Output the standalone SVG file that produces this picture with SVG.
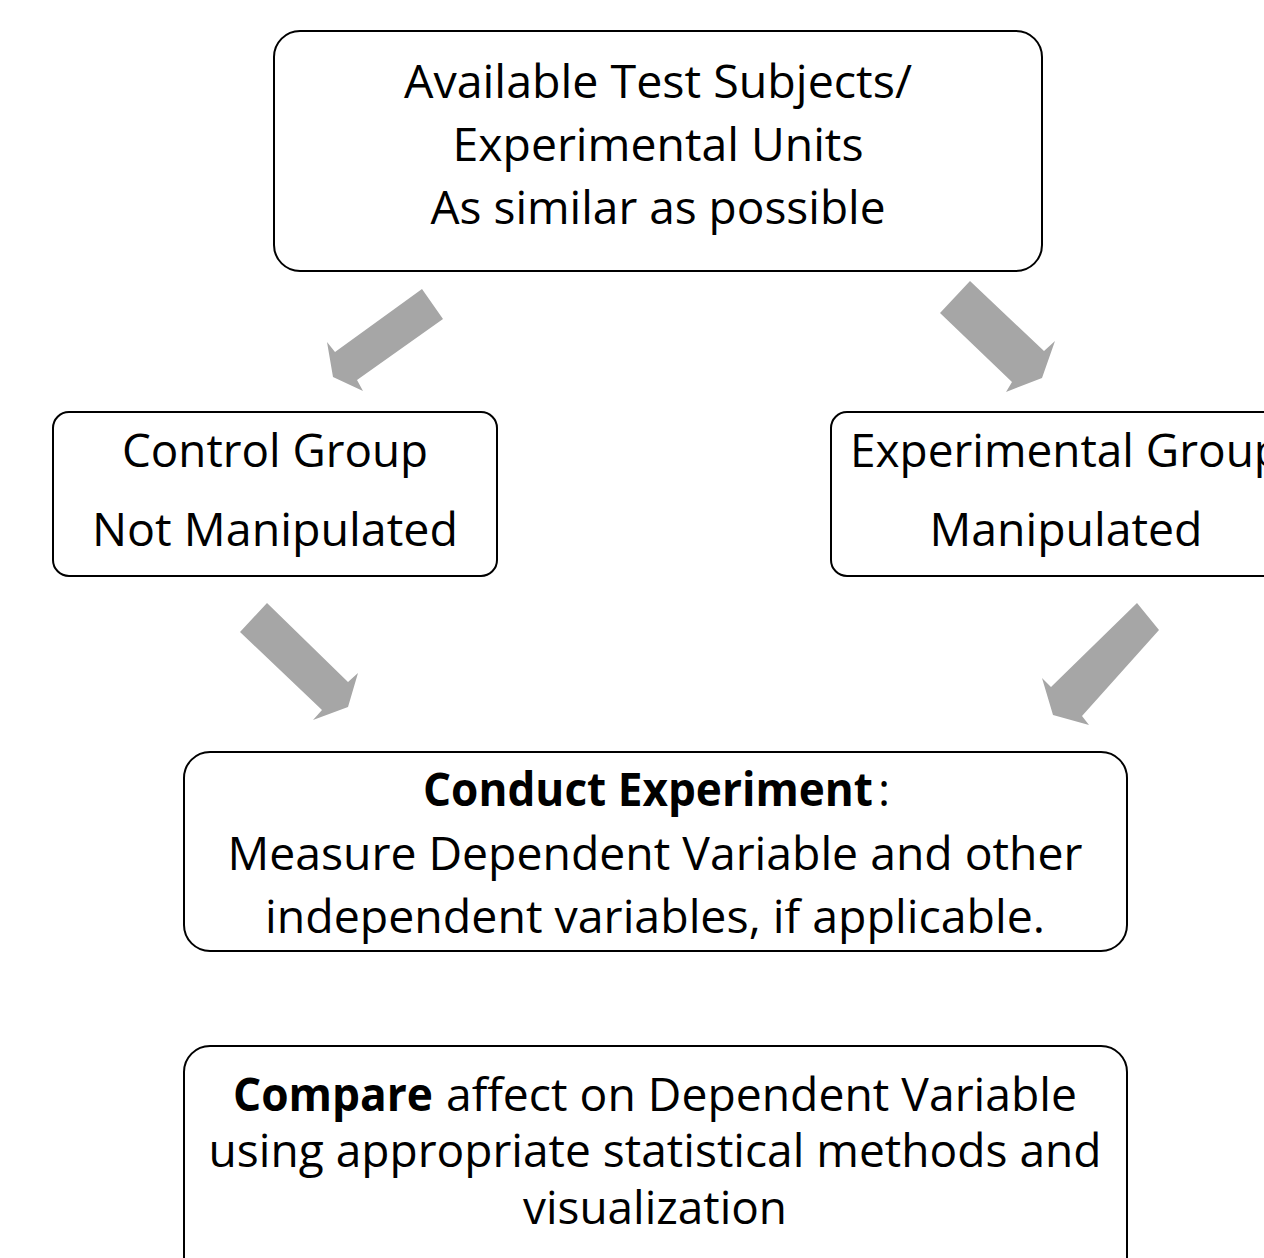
<svg xmlns="http://www.w3.org/2000/svg" width="1264" height="1258" viewBox="0 0 1264 1258">
<style>
.box{fill:#ffffff;stroke:#000000;stroke-width:2}
.t{font-family:"Open Sans","Liberation Sans",sans-serif;font-size:46px;fill:#000000;text-anchor:middle}
.s{text-anchor:start}
.b{font-weight:bold}
.arrow{fill:#A6A6A6;stroke:none}
</style>
<rect width="1264" height="1258" fill="#ffffff"/>
<g id="connectors">
<polygon class="arrow" points="422,289 443,319 357,380 363,391 333,377 327,342 335,352"/>
<polygon class="arrow" points="970,281 940,313 1012,382 1006,392 1042,378 1055,341 1044,351"/>
<polygon class="arrow" points="267,603 240,632 322,710 313,720 348,707 358,673 348,682"/>
<polygon class="arrow" points="1137,603 1159,630 1082,716 1089,725 1053,715 1042,678 1051,687"/>
</g>
<g id="node-subjects">
<rect class="box" x="274" y="31" width="768" height="240" rx="26"/>
<text class="t" x="658" y="98" textLength="508" lengthAdjust="spacingAndGlyphs">Available Test Subjects/</text>
<text class="t" x="658" y="161" textLength="411" lengthAdjust="spacingAndGlyphs">Experimental Units</text>
<text class="t" x="658" y="224" textLength="455" lengthAdjust="spacingAndGlyphs">As similar as possible</text>
</g>
<g id="node-control">
<rect class="box" x="53" y="412" width="444" height="164" rx="16"/>
<text class="t" x="275" y="467" textLength="306" lengthAdjust="spacingAndGlyphs">Control Group</text>
<text class="t" x="275" y="546" textLength="366" lengthAdjust="spacingAndGlyphs">Not Manipulated</text>
</g>
<g id="node-experimental">
<rect class="box" x="831" y="412" width="480" height="164" rx="16"/>
<text class="t s" x="850" y="467" textLength="432" lengthAdjust="spacingAndGlyphs">Experimental Group</text>
<text class="t" x="1066" y="546" textLength="273" lengthAdjust="spacingAndGlyphs">Manipulated</text>
</g>
<g id="node-conduct">
<rect class="box" x="184" y="752" width="943" height="199" rx="26"/>
<text class="t s b" x="423" y="806" textLength="450" lengthAdjust="spacingAndGlyphs">Conduct Experiment</text>
<text class="t s" x="878" y="806">:</text>
<text class="t" x="655" y="870" textLength="855" lengthAdjust="spacingAndGlyphs">Measure Dependent Variable and other</text>
<text class="t" x="655" y="933" textLength="780" lengthAdjust="spacingAndGlyphs">independent variables, if applicable.</text>
</g>
<g id="node-compare">
<rect class="box" x="184" y="1046" width="943" height="260" rx="26"/>
<text class="t s b" x="233" y="1111" textLength="200" lengthAdjust="spacingAndGlyphs">Compare</text>
<text class="t s" x="446" y="1111" textLength="631" lengthAdjust="spacingAndGlyphs">affect on Dependent Variable</text>
<text class="t" x="655" y="1167" textLength="893" lengthAdjust="spacingAndGlyphs">using appropriate statistical methods and</text>
<text class="t" x="655" y="1224" textLength="264" lengthAdjust="spacingAndGlyphs">visualization</text>
</g>
</svg>
